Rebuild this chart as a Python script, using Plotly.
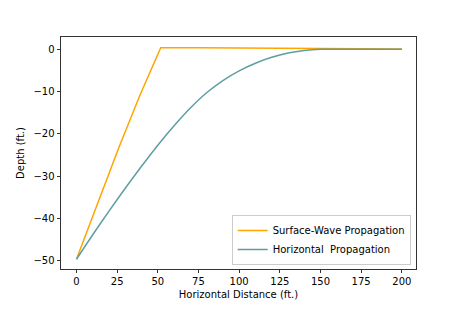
import plotly.graph_objects as go

# Surface-wave propagation (orange)
surface_x = [0, 13, 26, 39, 51.8, 75, 100, 125, 150, 175, 200]
surface_y = [-49.7, -36.4, -23.3, -10.9, 0.38, 0.37, 0.34, 0.3, 0.24, 0.17, 0.08]

# Horizontal propagation (teal)
horiz_x = [0, 10, 20, 30, 40, 50, 60, 70, 80, 90, 100, 110, 120, 130, 140, 150, 160, 170, 180, 190, 200]
horiz_y = [-49.7, -43.9, -38.3, -32.9, -27.7, -22.7, -18.1, -13.9, -10.3, -7.4, -5.1, -3.3, -1.9, -0.9, -0.3, 0.0, 0.0, 0.0, 0.0, 0.0, 0.0]

x_ticks = [0, 25, 50, 75, 100, 125, 150, 175, 200]
x_tick_labels = ["0", "25", "50", "75", "100", "125", "150", "175", "200"]
y_ticks = [0, -10, -20, -30, -40, -50]
y_tick_labels = ["0", "\u221210", "\u221220", "\u221230", "\u221240", "\u221250"]

fig = go.Figure()
fig.add_trace(go.Scatter(x=surface_x, y=surface_y, mode="lines",
                         line=dict(color="#FFA500", width=1.5),
                         name="Surface-Wave Propagation"))
fig.add_trace(go.Scatter(x=horiz_x, y=horiz_y, mode="lines",
                         line=dict(color="#5F9EA0", width=1.5, shape="spline", smoothing=0.8),
                         name="Horizontal\u00a0 Propagation"))

font = "DejaVu Sans, sans-serif"
fig.update_layout(
    width=463, height=309,
    margin=dict(l=50, r=55, t=29, b=48),
    paper_bgcolor="white", plot_bgcolor="white",
    font=dict(family=font, size=10, color="black"),
    showlegend=True,
    legend=dict(x=0.985, y=0.017, xanchor="right", yanchor="bottom",
                bgcolor="rgba(255,255,255,0.8)", bordercolor="#cccccc", borderwidth=1,
                font=dict(family=font, size=10, color="black"),
                itemwidth=30),
)
fig.update_xaxes(range=[-9.5, 208.7], tickvals=x_ticks, ticktext=x_tick_labels,
                 ticks="outside", ticklen=3.5, tickwidth=0.8, tickcolor="#333",
                 showline=True, linecolor="#333", linewidth=0.8, mirror=True,
                 showgrid=False, zeroline=False,
                 title=dict(text="Horizontal Distance (ft.)", standoff=4, font=dict(size=10)))
fig.update_yaxes(range=[-52.0, 2.9], tickvals=y_ticks, ticktext=y_tick_labels,
                 ticks="outside", ticklen=3.5, tickwidth=0.8, tickcolor="#333",
                 showline=True, linecolor="#333", linewidth=0.8, mirror=True,
                 showgrid=False, zeroline=False,
                 title=dict(text="Depth (ft.)", standoff=6, font=dict(size=10)))

fig.write_html("out.html")
